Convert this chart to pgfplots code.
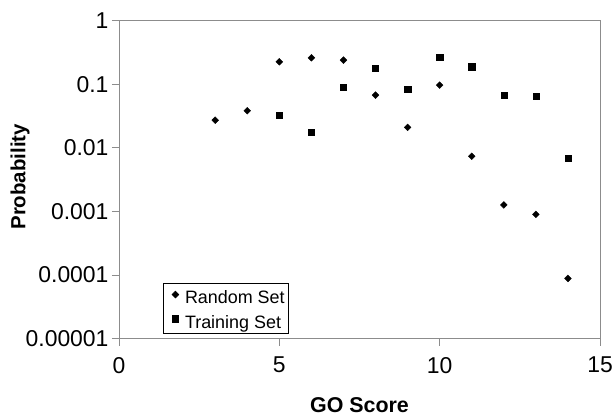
\documentclass[border=0pt]{standalone}
\usepackage{pgfplots}
\pgfplotsset{compat=1.18}
\usepackage{fontspec}
\setmainfont{Liberation Sans}

\begin{document}
\begin{tikzpicture}
\begin{axis}[
    scale only axis,
    width=481bp, height=318bp,
    ymode=log,
    xmin=0, xmax=15,
    ymin=1e-5, ymax=1,
    xtick={0,5,10,15},
    ytick={1e-5,1e-4,1e-3,1e-2,1e-1,1},
    yticklabels={0.00001,0.0001,0.001,0.01,0.1,1},
    minor tick num=0,
    yminorticks=false,
    tick align=outside,
    major tick length=7bp,
    axis line style={black!45, line width=0.9bp},
    tick style={black!45, line width=0.9bp},
    xtick pos=bottom, ytick pos=left,
    /pgf/number format/assume math mode=true,
    ticklabel style={font=\fontsize{23}{27}\selectfont},
    xticklabel style={yshift=-8bp},
    xlabel={\textbf{GO Score}},
    ylabel={\textbf{Probability}},
    xlabel style={font=\fontsize{21.5}{26}\selectfont, anchor=base, at={(rel axis cs:0.5,-0.2311)}},
    ylabel style={font=\fontsize{20.5}{25}\selectfont, anchor=center, at={(rel axis cs:-0.2058,0.509)}},
    legend style={at={(rel axis cs:0.0921,0.0164)}, anchor=south west,
        draw=black, line width=0.6bp, fill=white,
        font=\fontsize{18}{21}\selectfont,
        inner xsep=3.8bp, inner ysep=2bp, row sep=2.6bp, column sep=1.6bp,
        nodes={inner sep=0bp, text height=18.7bp, text depth=3bp},
        cells={anchor=west}},
    legend image code/.code={\path[draw=none, fill=none] (0bp,0bp) rectangle (16bp,1bp); \draw plot coordinates {(8bp,1.5bp)};},
]
\addplot[only marks, mark=diamond*, mark size=3.4bp, mark options={xscale=1.33, fill=black, draw=black}]
coordinates {(3,0.0273) (4,0.0384) (5,0.226) (6,0.261) (7,0.240) (8,0.0676) (9,0.021) (10,0.097) (11,0.0074) (12,0.00127) (13,0.00090) (14,0.0000887)};
\addplot[only marks, mark=square*, mark size=3.1bp, mark options={fill=black, draw=black}]
coordinates {(5,0.0324) (6,0.0177) (7,0.0904) (8,0.178) (9,0.083) (10,0.265) (11,0.189) (12,0.0676) (13,0.0645) (14,0.0069)};
\legend{Random Set, Training Set}
\end{axis}
\pgfresetboundingbox
\path ([xshift=-119bp,yshift=-77.5bp]current axis.south west) rectangle ([xshift=15bp,yshift=20.7bp]current axis.north east);
\end{tikzpicture}
\end{document}
